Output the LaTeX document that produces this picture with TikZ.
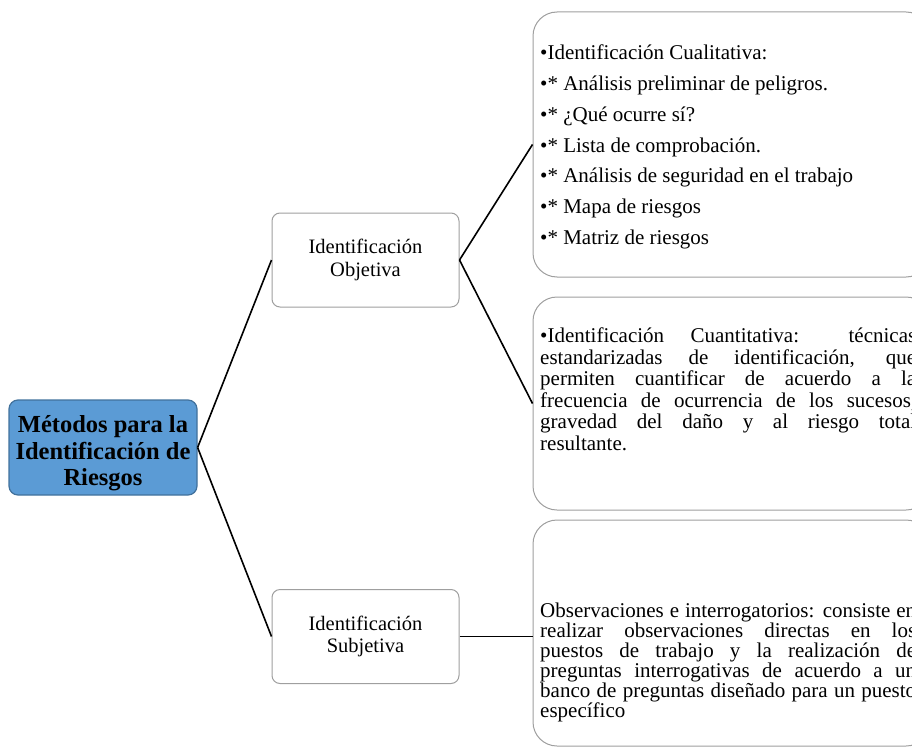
\documentclass[tikz,border=0pt]{standalone}
\usepackage{fontspec}
\setmainfont{Liberation Serif}
\begin{document}
\begin{tikzpicture}[x=1pt,y=-1pt,
  mainbox/.style={draw=mainedge, fill=mainblue, line width=1.2pt, rounded corners=9pt,
    minimum width=188pt, minimum height=95pt, inner sep=0pt},
  maintext/.style={inner sep=0pt, align=center, font=\fontsize{24.5}{26.5}\selectfont\bfseries},
  midbox/.style={draw=gray!75, fill=white, line width=1pt, rounded corners=8pt,
    minimum width=187pt, minimum height=94pt, inner sep=0pt, align=center,
    font=\fontsize{20.5}{22.5}\selectfont},
  bigbox/.style={draw=gray!75, fill=white, line width=1pt, rounded corners=24pt, inner sep=0pt},
  bodytext/.style={inner sep=0pt, anchor=north west, text width=376pt, align=justify},
  link/.style={draw=black, line width=1.6pt}]
\definecolor{mainblue}{HTML}{5B9BD5}
\definecolor{mainedge}{HTML}{41719C}
\useasboundingbox (0,0) rectangle (912,749);
\clip (0,0) rectangle (912,749);
\lineskiplimit=-100pt

% main topic
\node[mainbox] (main) at (103,447.5) {};
\node[maintext] (maintxt) at ([yshift=-6pt]main.center) {Métodos para la\\Identificación de\\Riesgos};

% second level
\node[midbox] (obj) at (365.5,260) {Identificación\\Objetiva};
\node[midbox] (subj) at (365.5,636.5) {Identificación\\Subjetiva};

% detail boxes (right side runs past the page edge)
\node[bigbox, minimum width=397pt, minimum height=265pt] (cuali) at (731.5,144.5) {};
\node[bigbox, minimum width=397pt, minimum height=213pt] (cuanti) at (731.5,403.5) {};
\node[bigbox, minimum width=397pt, minimum height=226pt] (obs) at (731.5,633) {};

% texts of the detail boxes
\node[inner sep=0pt, anchor=north west, align=left,
      font=\fontsize{21}{30.7}\selectfont] (cualitxt) at (540,45)
  {•Identificación Cualitativa:\\
   •* Análisis preliminar de peligros.\\
   •* ¿Qué ocurre sí?\\
   •* Lista de comprobación.\\
   •* Análisis de seguridad en el trabajo\\
   •* Mapa de riesgos\\
   •* Matriz de riesgos};

\node[bodytext, font=\fontsize{21}{21.5}\selectfont] (cuantitxt) at (540,328)
  {\hyphenpenalty=10000 •Identificación Cuantitativa: técnicas\linebreak
   estandarizadas de identificación, que\linebreak
   permiten cuantificar de acuerdo a la\linebreak
   frecuencia de ocurrencia de los sucesos,\linebreak
   gravedad del daño y al riesgo total\linebreak
   resultante.};

\node[bodytext, font=\fontsize{21}{20}\selectfont] (obstxt) at (540,603)
  {\hyphenpenalty=10000 Observaciones e interrogatorios: consiste en\linebreak
   realizar observaciones directas en los\linebreak
   puestos de trabajo y la realización de\linebreak
   preguntas interrogativas de acuerdo a un\linebreak
   banco de preguntas diseñado para un puesto\linebreak
   específico};

% connectors
\draw[link] (main.east) -- (obj.west);
\draw[link] (main.east) -- (subj.west);
\draw[link] (obj.east) -- (cuali.west);
\draw[link] (obj.east) -- (cuanti.west);
\draw[link] (subj.east) -- (subj.east -| obs.west);
\end{tikzpicture}
\end{document}
